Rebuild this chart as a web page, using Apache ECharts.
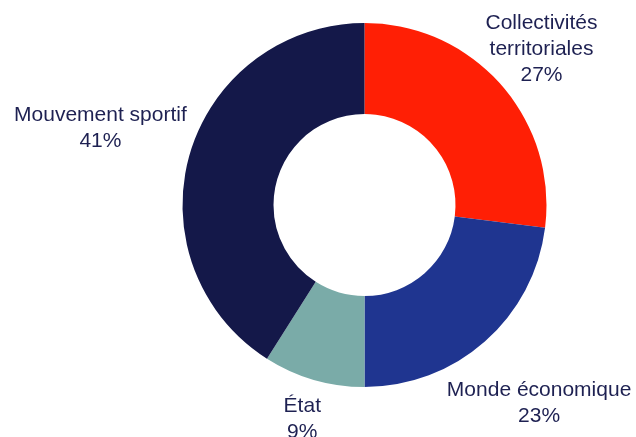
<!DOCTYPE html>
<html><head><meta charset="utf-8">
<script src="https://cdn.jsdelivr.net/npm/echarts@6/dist/echarts.min.js"></script>
<style>html,body{margin:0;padding:0;background:#fff}#c{width:636px;height:437px}</style>
</head><body><div id="c"></div>
<script>
const categories = ['Collectivités\nterritoriales', 'Monde économique', 'État', 'Mouvement sportif'];
const values = [27, 23, 9, 41];
const colors = ['#FF1F05', '#1F3590', '#7AABA8', '#141849'];
const labelRadius = [236, 264, 223, 275];
const CX = 364.5, CY = 205;
const total = values.reduce((a, b) => a + b, 0);
const mids = []; let acc = 0;
values.forEach(v => { mids.push((acc + v / 2) / total * 2 * Math.PI); acc += v; });
const chart = echarts.init(document.getElementById('c'), null, {renderer: 'canvas'});
chart.setOption({
  animation: false,
  series: [{
    type: 'pie', center: [CX, CY], radius: [91, 182], startAngle: 90, clockwise: true,
    avoidLabelOverlap: false,
    data: categories.map((n, i) => ({name: n, value: values[i], itemStyle: {color: colors[i]}})),
    label: {
      show: true, position: 'outside',
      formatter: p => p.name + '\n' + Math.round(p.percent) + '%',
      color: '#1E2152', fontFamily: 'Liberation Sans, Arial, sans-serif',
      fontSize: 21, lineHeight: 26, align: 'center'
    },
    labelLine: {show: false},
    labelLayout: p => {
      const a = mids[p.dataIndex], r = labelRadius[p.dataIndex];
      return {x: CX + r * Math.sin(a), y: CY - r * Math.cos(a), align: 'center', verticalAlign: 'middle'};
    },
    emphasis: {disabled: true}
  }]
});
</script></body></html>
